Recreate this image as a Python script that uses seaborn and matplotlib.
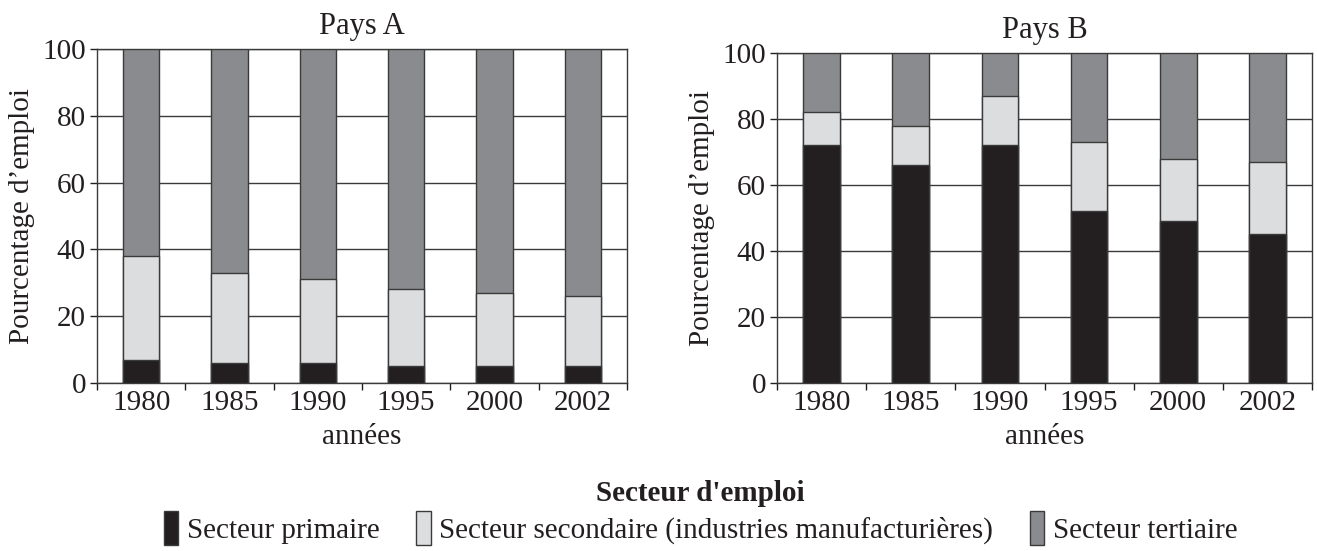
import numpy as np
import pandas as pd
import seaborn as sns
import matplotlib.pyplot as plt
from matplotlib.patches import Patch

annees = ["1980", "1985", "1990", "1995", "2000", "2002"]

# Pays A (en %)
a_primaire = [7, 6, 6, 5, 5, 5]
a_secondaire = [31, 27, 25, 23, 22, 21]
a_tertiaire = [62, 67, 69, 72, 73, 74]

# Pays B (en %)
b_primaire = [72, 66, 72, 52, 49, 45]
b_secondaire = [10, 12, 15, 21, 19, 22]
b_tertiaire = [18, 22, 13, 27, 32, 33]

secteurs = ["Secteur primaire",
            "Secteur secondaire (industries manufacturières)",
            "Secteur tertiaire"]
couleurs = ["#231f20", "#dcdddf", "#8a8b8e"]

sns.set_theme(style="white")
plt.rcParams["font.family"] = ["Liberation Serif", "DejaVu Serif"]
plt.rcParams["text.color"] = "#231f20"
plt.rcParams["axes.labelcolor"] = "#231f20"
plt.rcParams["xtick.color"] = "#231f20"
plt.rcParams["ytick.color"] = "#231f20"

fig = plt.figure(figsize=(13.17, 5.51), dpi=100)
W, H = 1317, 551
ax_a = fig.add_axes([97 / W, (H - 383) / H, 530 / W, 334 / H])
ax_b = fig.add_axes([777 / W, (H - 383) / H, 535 / W, 330 / H])


def dessiner(ax, prim, sec, ter, titre):
    df = pd.DataFrame({"annee": annees, "prim": prim, "sec": sec, "ter": ter})
    df["cum2"] = df["prim"] + df["sec"]
    df["cum3"] = df["cum2"] + df["ter"]
    # couches empilées : on dessine du haut vers le bas
    for col, c in [("cum3", couleurs[2]), ("cum2", couleurs[1]), ("prim", couleurs[0])]:
        sns.barplot(data=df, x="annee", y=col, color=c, width=0.41,
                    edgecolor="#3a3a3a", linewidth=1.0, saturation=1,
                    ax=ax, zorder=3)
    ax.set_ylim(0, 100)
    ax.set_xlim(-0.5, 5.5)
    ax.set_yticks([0, 20, 40, 60, 80, 100])
    ax.yaxis.grid(True, color="#3a3a3a", linewidth=1.0)
    ax.set_axisbelow(True)
    ax.set_xticks(np.arange(-0.5, 6.0, 1.0), minor=True)
    ax.tick_params(axis="x", which="major", length=0, labelsize=21, pad=5)
    ax.tick_params(axis="x", which="minor", length=5, width=1, direction="out", bottom=True)
    ax.tick_params(axis="y", length=5, width=1, direction="out", left=True, labelsize=21, pad=3)
    for s in ax.spines.values():
        s.set_color("#3a3a3a")
        s.set_linewidth(1.0)
    ax.set_xlabel("années", fontsize=21, labelpad=6)
    ax.set_ylabel("Pourcentage d\u2019emploi", fontsize=21, labelpad=5)
    ax.set_title(titre, fontsize=22, pad=11)


dessiner(ax_a, a_primaire, a_secondaire, a_tertiaire, "Pays A")
dessiner(ax_b, b_primaire, b_secondaire, b_tertiaire, "Pays B")

poignees = [Patch(facecolor=c, edgecolor="#3a3a3a", linewidth=1.0) for c in couleurs]
leg = fig.legend(poignees, secteurs, loc="center", bbox_to_anchor=(0.532, 0.07),
                 ncol=3, frameon=False, fontsize=21, handlelength=0.5,
                 handleheight=1.4, handletextpad=0.3, columnspacing=1.25,
                 borderpad=0.2,
                 title="Secteur d'emploi",
                 title_fontproperties={"weight": "bold", "size": 21,
                                       "family": "Liberation Serif"})
leg._legend_box.sep = 3

fig.savefig("out.png", dpi=100)
